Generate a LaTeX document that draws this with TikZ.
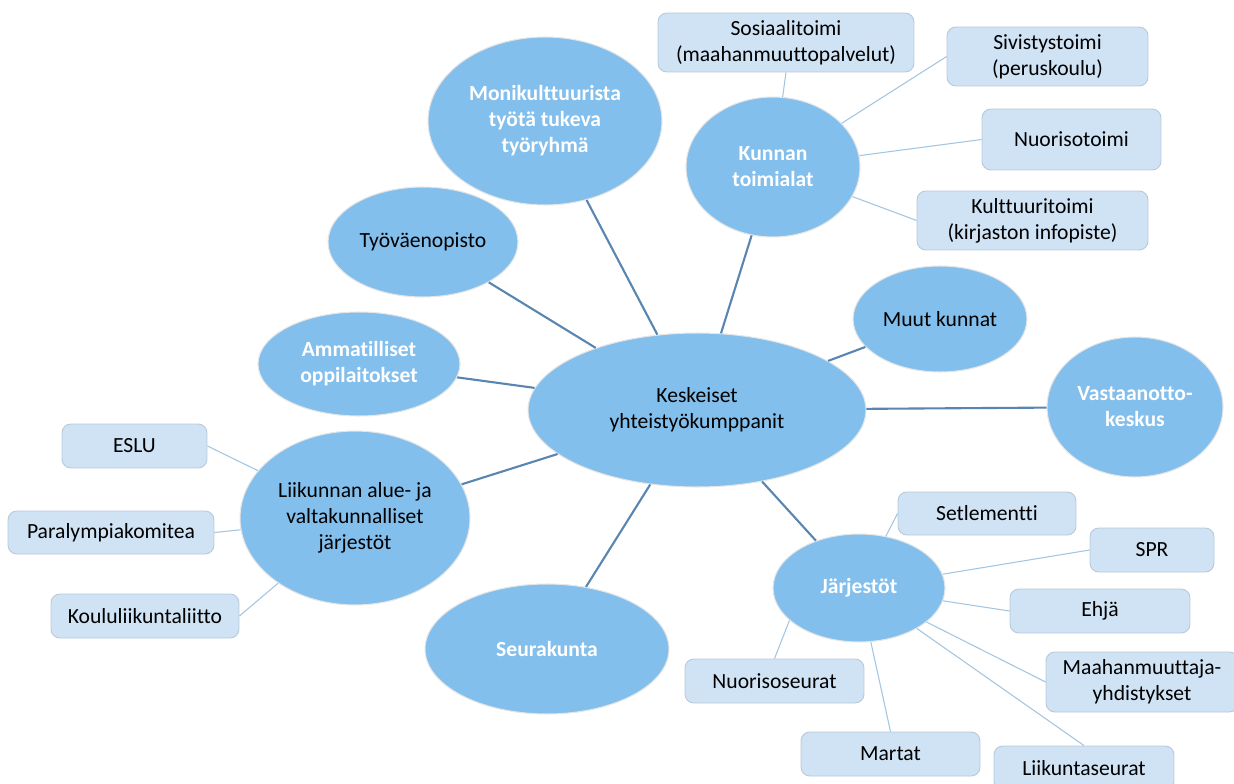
\documentclass[tikz,border=0pt]{standalone}
\usepackage{fontspec}
\setmainfont{Carlito}[Ligatures=NoCommon]
\usepackage{xcolor}
\usetikzlibrary{shapes.geometric}

\definecolor{bubblefill}{RGB}{131,191,236}
\definecolor{boxfill}{RGB}{207,227,245}
\definecolor{boxline}{RGB}{184,200,216}
\definecolor{linkcol}{RGB}{88,134,176}
\definecolor{sublinkcol}{RGB}{162,197,224}

\begin{document}
\begin{tikzpicture}[
  x=0.02cm, y=-0.02cm,
  bubble/.style={ellipse, draw=white!80!gray, line width=0.6pt, fill=bubblefill, inner sep=0pt, align=center, font=\fontsize{12.3}{14.8}\selectfont},
  whitebubble/.style={bubble, text=white, font=\fontsize{12.3}{14.8}\selectfont\bfseries},
  box/.style={draw=boxline, line width=0.5pt, fill=boxfill, rounded corners=5pt, inner sep=0pt, align=center, font=\fontsize{12.3}{14.8}\selectfont},
  link/.style={draw=linkcol, line width=1.2pt},
  sublink/.style={draw=sublinkcol, line width=0.6pt}
]
\useasboundingbox (0,0) rectangle (1234,784);
\clip (0,0) rectangle (1234,784);

\node[bubble, minimum width=6.76cm, minimum height=3.08cm] (hub) at (697,410) {Keskeiset\\yhteistyökumppanit};

\node[whitebubble, minimum width=4.68cm, minimum height=3.36cm] (moni) at (545,121) {Monikulttuurista\\työtä tukeva\\työryhmä};
\node[whitebubble, minimum width=3.48cm, minimum height=2.80cm] (kunnan) at (773,167) {Kunnan\\toimialat};
\node[bubble, minimum width=3.80cm, minimum height=2.20cm] (tyovaen) at (423,242) {Työväenopisto};
\node[whitebubble, minimum width=4.04cm, minimum height=2.08cm] (ammat) at (359,364) {Ammatilliset\\oppilaitokset};
\node[bubble, minimum width=3.48cm, minimum height=2.12cm] (muut) at (940,319) {Muut kunnat};
\node[whitebubble, minimum width=3.52cm, minimum height=2.80cm] (vastaanotto) at (1135,407) {Vastaanotto-\\keskus};
\node[bubble, minimum width=4.60cm, minimum height=3.48cm] (liikunta) at (355,518) {Liikunnan alue- ja\\valtakunnalliset\\järjestöt};
\node[whitebubble, minimum width=4.88cm, minimum height=2.60cm] (seurakunta) at (547,649) {Seurakunta};
\node[whitebubble, minimum width=3.44cm, minimum height=2.16cm] (jarjestot) at (859,588) {Järjestöt};

\node[box, minimum width=5.12cm, minimum height=1.18cm] (sosiaali) at (786,42.5) {Sosiaalitoimi\\(maahanmuuttopalvelut)};
\node[box, minimum width=4.02cm, minimum height=1.18cm] (sivistys) at (1047.5,56.5) {Sivistystoimi\\(peruskoulu)};
\node[box, minimum width=3.58cm, minimum height=1.22cm] (nuorisotoimi) at (1071.5,139.5) {Nuorisotoimi};
\node[box, minimum width=4.62cm, minimum height=1.18cm] (kulttuuri) at (1032.5,220.5) {Kulttuuritoimi\\(kirjaston infopiste)};

\node[box, minimum width=2.90cm, minimum height=0.88cm] (eslu) at (134.5,446) {ESLU};
\node[box, minimum width=4.12cm, minimum height=0.86cm] (paralympia) at (111,532.5) {Paralympiakomitea};
\node[box, minimum width=3.76cm, minimum height=0.88cm] (koulu) at (145,616) {Koululiikuntaliitto};

\node[box, minimum width=3.56cm, minimum height=0.86cm] (setlementti) at (987,513.5) {Setlementti};
\node[box, minimum width=2.48cm, minimum height=0.88cm] (spr) at (1152,550) {SPR};
\node[box, minimum width=3.60cm, minimum height=0.88cm] (ehja) at (1100,611) {Ehjä};
\node[box, minimum width=3.84cm, minimum height=1.20cm] (maahan) at (1142,682) {Maahanmuuttaja-\\yhdistykset};
\node[box, minimum width=3.58cm, minimum height=0.88cm] (nuorisoseurat) at (774.5,681) {Nuorisoseurat};
\node[box, minimum width=3.58cm, minimum height=0.88cm] (martat) at (890.5,754) {Martat};
\node[box, minimum width=3.60cm, minimum height=0.88cm] (liikuntaseurat) at (1084,768) {Liikuntaseurat};

\draw[link] (hub) -- (moni);
\draw[link] (hub) -- (kunnan);
\draw[link] (hub) -- (tyovaen);
\draw[link] (hub) -- (ammat);
\draw[link] (hub) -- (muut);
\draw[link] (hub) -- (vastaanotto);
\draw[link] (hub) -- (liikunta);
\draw[link] (hub) -- (seurakunta);
\draw[link] (hub) -- (jarjestot);

\draw[sublink] (kunnan) -- (sosiaali.south);
\draw[sublink] (kunnan) -- (sivistys.west);
\draw[sublink] (kunnan) -- (nuorisotoimi.west);
\draw[sublink] (kunnan) -- (kulttuuri.west);

\draw[sublink] (liikunta) -- (eslu.east);
\draw[sublink] (liikunta) -- (paralympia.east);
\draw[sublink] (liikunta) -- (koulu.east);

\draw[sublink] (jarjestot) -- (setlementti.west);
\draw[sublink] (jarjestot) -- (spr.west);
\draw[sublink] (jarjestot) -- (ehja.west);
\draw[sublink] (jarjestot) -- (maahan.west);
\draw[sublink] (jarjestot) -- (liikuntaseurat.north);
\draw[sublink] (jarjestot) -- (martat.north);
\draw[sublink] (jarjestot.205) -- (nuorisoseurat.north);
\end{tikzpicture}
\end{document}
